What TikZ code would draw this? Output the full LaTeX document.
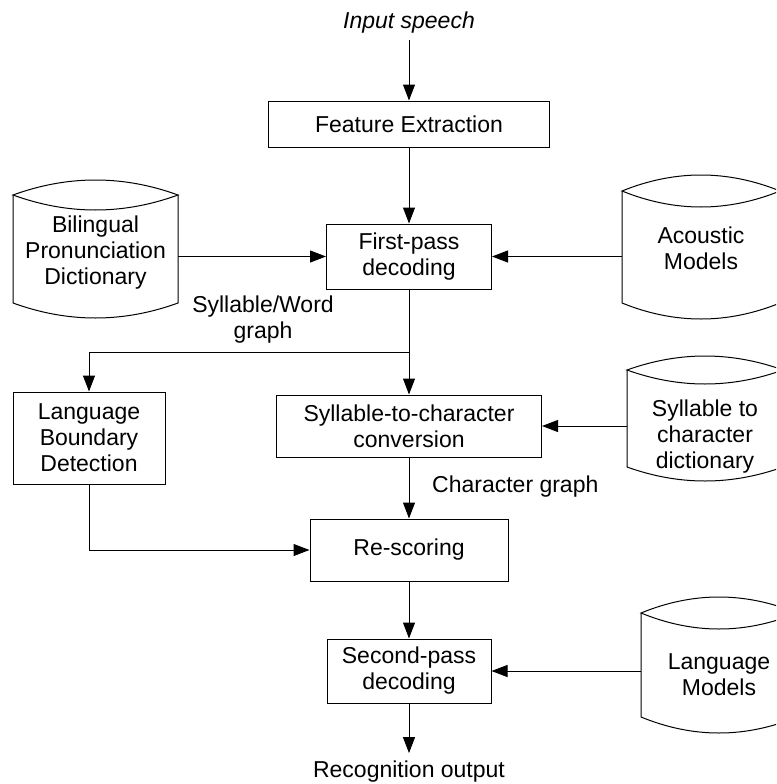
\documentclass[tikz,border=0pt]{standalone}
\usepackage{fontspec}
\setmainfont{Liberation Sans}
\usetikzlibrary{arrows.meta}

% storage drum: name, left, right, top, bottom, bulge, text y, text
\newcommand\drum[8]{%
  \pgfmathsetmacro\drmA{#2+(#3-#2)/3}%
  \pgfmathsetmacro\drmB{#3-(#3-#2)/3}%
  \pgfmathsetmacro\drmU{#4-4*#6/3}%
  \pgfmathsetmacro\drmD{#4+4*#6/3}%
  \pgfmathsetmacro\drmE{#5+4*#6/3}%
  \draw[outline] (#2,#4) .. controls (\drmA,\drmU) and (\drmB,\drmU) .. (#3,#4)
    .. controls (\drmB,\drmD) and (\drmA,\drmD) .. cycle;
  \draw[outline] (#2,#4) -- (#2,#5)
    .. controls (\drmA,\drmE) and (\drmB,\drmE) .. (#3,#5) -- (#3,#4);
  \coordinate (#1L) at (#2,#7);
  \coordinate (#1R) at (#3,#7);
  \node[label text] (#1) at ({(#2+#3)/2},#7) {#8};
}

\begin{document}
\begin{tikzpicture}[x=1pt,y=-1pt,
  label text/.style={font=\fontsize{23}{26}\selectfont, align=center, inner sep=0pt},
  outline/.style={line width=1pt, draw=black},
  procbox/.style={label text, draw, line width=1pt},
  arr/.style={line width=1pt, -{Triangle[length=16pt,width=12pt]}},
  link/.style={line width=1pt}]
\clip (0,0) rectangle (776,784);

% processing stages
\node[procbox, minimum width=281pt, minimum height=46pt] (fe) at (409,124) {Feature Extraction};
\node[procbox, minimum width=165pt, minimum height=65pt] (fp) at (409,256.5) {First-pass\\decoding};
\node[procbox, minimum width=265pt, minimum height=62pt] (syl) at (409,426) {Syllable-to-character\\conversion};
\node[procbox, minimum width=152pt, minimum height=92pt] (lbd) at (89,438) {Language\\Boundary\\Detection};
\node[procbox, minimum width=198pt, minimum height=62pt] (rs) at (409,550) {Re-scoring};
\node[procbox, minimum width=164pt, minimum height=64pt] (sp) at (409,671) {Second-pass\\decoding};

% knowledge sources
\drum{bil}{13}{178}{195}{303}{15}{253}{Bilingual\\Pronunciation\\Dictionary}
\drum{acm}{622}{780}{191}{303}{16}{248}{Acoustic\\Models}
\drum{sdic}{627}{783}{370}{467}{14}{437}{Syllable to\\character\\dictionary}
\drum{lm}{641}{797}{613}{717}{16}{675}{Language\\Models}

% input and output
\node[label text, font=\fontsize{23}{26}\selectfont\itshape] (in) at (409,23) {Input speech};
\node[label text] (out) at (409,772) {Recognition output};

% edge labels
\node[label text] (swg) at (263,320) {Syllable/Word\\graph};
\node[label text, anchor=west] (cg) at (432,487) {Character graph};

% connectors
\coordinate (br) at (409,352);
\draw[arr, shorten <=6pt] (in) -- (fe.north);
\draw[arr] (fe.south) -- (fp.north);
\draw[arr] (bilR |- fp.west) -- (fp.west);
\draw[arr] (acmL |- fp.east) -- (fp.east);
\draw[link] (fp.south) -- (br);
\draw[arr] (br) -- (syl.north);
\draw[arr] (br) -| (lbd.north);
\draw[arr] (sdicL |- syl.east) -- (syl.east);
\draw[arr] (syl.south) -- (rs.north);
\draw[arr] (lbd.south) |- (rs.west);
\draw[arr] (rs.south) -- (sp.north);
\draw[arr] (lmL |- sp.east) -- (sp.east);
\draw[arr, shorten >=8pt] (sp.south) -- (out.north);
\end{tikzpicture}
\end{document}
